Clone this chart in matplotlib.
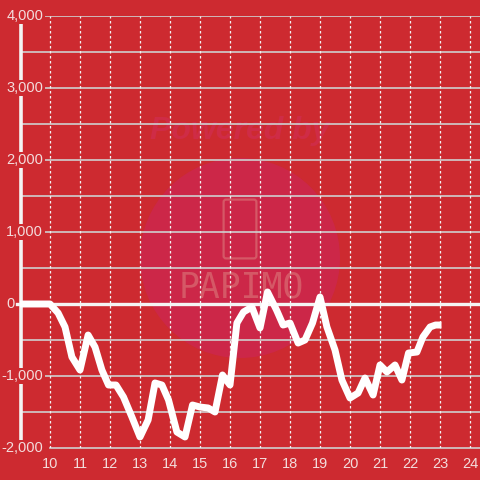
import matplotlib
matplotlib.use("Agg")
import matplotlib.pyplot as plt
from matplotlib.patches import Circle, FancyBboxPatch

plt.rcParams['font.family'] = ['Liberation Sans', 'DejaVu Sans']

hours = [9.0, 10.0, 10.27, 10.5, 10.73, 11.0, 11.27, 11.5, 11.73, 11.95, 12.2, 12.45,
         12.73, 13.0, 13.27, 13.5, 13.73, 13.95, 14.23, 14.5, 14.75, 15.0, 15.27, 15.5,
         15.75, 16.0, 16.23, 16.45, 16.73, 17.0, 17.25, 17.55, 17.77, 18.0, 18.27, 18.5,
         18.75, 19.0, 19.23, 19.5, 19.73, 20.0, 20.27, 20.5, 20.77, 21.0, 21.23, 21.5,
         21.73, 21.95, 22.23, 22.43, 22.67, 22.85, 23.05]
values = [0, 0, -125, -319, -736, -917, -431, -597, -917, -1125, -1125, -1292,
          -1569, -1847, -1611, -1097, -1125, -1333, -1778, -1847, -1403, -1431, -1444, -1500,
          -986, -1125, -264, -111, -42, -333, 167, -83, -292, -264, -542, -500,
          -264, 97, -319, -639, -1056, -1306, -1236, -1028, -1264, -847, -944, -847,
          -1056, -681, -667, -458, -319, -292, -292]
x_ticks = list(range(10, 25))
y_ticks = [-2000, -1000, 1000, 2000, 3000, 4000]
y_tick_labels = ['-2,000', '-1,000', '1,000', '2,000', '3,000', '4,000']

bg = '#cd2a30'
txt = '#f3dcdc'

fig = plt.figure(figsize=(4.8, 4.8), dpi=100, facecolor=bg)
ax = fig.add_axes([20/480, 32/480, 460/480, 432/480])
ax.set_facecolor(bg)
ax.set_xlim(9, 24.333)
ax.set_ylim(-2000, 4000)
for s in ax.spines.values():
    s.set_visible(False)
ax.set_xticks([])
ax.set_yticks([])

# watermark (behind grid)
circ = Circle((240/480, 1 - 258/480), 100/480, transform=fig.transFigure,
              facecolor='#cc2748', edgecolor='none', zorder=0.2, clip_on=False)
ax.add_patch(circ)
ax.text(240/480, 1 - 131/480, 'Powered by', transform=fig.transFigure, ha='center',
        va='center', fontsize=23, fontstyle='italic', fontweight='bold', color='#cf2c46',
        zorder=0.3)
phone = FancyBboxPatch((226/480, 1 - 256/480), 28/480, 54/480, boxstyle='round,pad=0.005',
                       transform=fig.transFigure, facecolor='none', edgecolor='#d55866',
                       lw=1.6, zorder=0.3, clip_on=False)
ax.add_patch(phone)
ax.text(241/480, 1 - 287/480, 'PAPIMO', transform=fig.transFigure, ha='center',
        va='center', fontsize=25, family='DejaVu Sans Mono', color='#d55866', zorder=0.3)

# grid
for yv in range(-1500, 4001, 500):
    ax.axhline(yv, color='#cfcfcf', lw=1.2, zorder=1)
ax.plot([10, 24.333], [-2000, -2000], color='#cfcfcf', lw=1.2, zorder=1, clip_on=False)
for xv in x_ticks:
    ax.plot([xv, xv], [-2000, 4000], color='#f2f2f2', lw=0.9, ls=(0, (2, 2)), zorder=1)

# left spine
ax.plot([9.03, 9.03], [-2000, 4000], color='#f4f4f4', lw=2.6, zorder=2, clip_on=False)
# zero line
ax.plot([8.9, 24.333], [0, 0], color='#f4f4f4', lw=2.4, zorder=3, clip_on=False)

# y labels
for yv, lab in zip(y_ticks, y_tick_labels):
    ax.text(9.77, yv, lab, ha='right', va='center', fontsize=10.5, color=txt, zorder=4,
            bbox=dict(boxstyle='square,pad=0.1', facecolor=bg, edgecolor='none'))
ax.text(8.83, 0, '0', ha='right', va='center', fontsize=10.5, color=txt, zorder=4,
        clip_on=False)
# x labels
for xv in x_ticks:
    ax.text(xv, -2220, str(xv), ha='center', va='center', fontsize=10.5, color=txt,
            zorder=4, clip_on=False)

ax.plot(hours, values, color='white', lw=5.0, solid_joinstyle='round',
        solid_capstyle='butt', zorder=5)

fig.savefig('out.png', dpi=100, facecolor=bg)
